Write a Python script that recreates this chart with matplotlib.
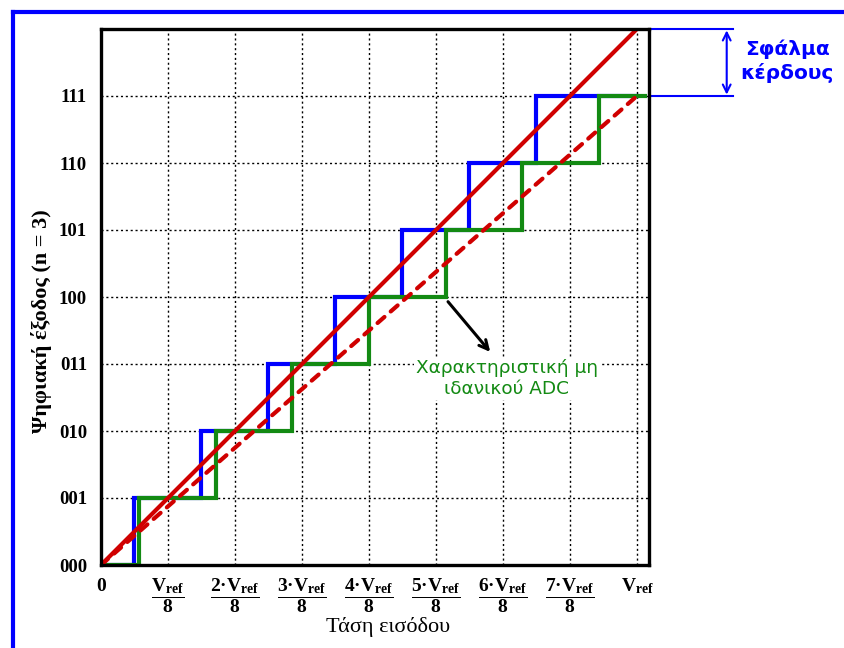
import matplotlib
matplotlib.use("Agg")
import matplotlib.pyplot as plt
from matplotlib.lines import Line2D

plt.rcParams['mathtext.fontset'] = 'custom'
plt.rcParams['mathtext.rm'] = 'Liberation Serif:bold'
plt.rcParams['mathtext.it'] = 'Liberation Serif:bold'
plt.rcParams['mathtext.bf'] = 'Liberation Serif:bold'

# ---- data ----
codes = ['000', '001', '010', '011', '100', '101', '110', '111']
code_vals = [0, 1, 2, 3, 4, 5, 6, 7]
x_ticks = [0, 1, 2, 3, 4, 5, 6, 7, 8]
x_ticklabels = [r'$0$',
                r'$\dfrac{V_{ref}}{8}$',
                r'$\dfrac{2·V_{ref}}{8}$',
                r'$\dfrac{3·V_{ref}}{8}$',
                r'$\dfrac{4·V_{ref}}{8}$',
                r'$\dfrac{5·V_{ref}}{8}$',
                r'$\dfrac{6·V_{ref}}{8}$',
                r'$\dfrac{7·V_{ref}}{8}$',
                r'$V_{ref}$']
ideal_x = [0, 0.5, 1.5, 2.5, 3.5, 4.5, 5.5, 6.5, 8.0]
ideal_y = [0, 1, 2, 3, 4, 5, 6, 7, 7]
real_x = [0, 0.571, 1.714, 2.857, 4.0, 5.143, 6.286, 7.429, 8.12]
real_y = [0, 1, 2, 3, 4, 5, 6, 7, 7]
ideal_line_x = [0, 8]
ideal_line_y = [0, 8]
gain_line_x = [0, 8]
gain_line_y = [0, 7]

fig = plt.figure(figsize=(8.44, 6.48), dpi=100)
ax = fig.add_axes([101/844, 83/648, 548/844, 536/648])
ax.set_xlim(0, 8.18)
ax.set_ylim(0, 8)

# grid
for v in x_ticks[1:]:
    ax.axvline(v, color='black', lw=1.0, ls=(0, (1.5, 2)), zorder=1)
for v in code_vals[1:]:
    ax.axhline(v, color='black', lw=1.0, ls=(0, (1.5, 2)), zorder=1)

blue = '#0000FF'
green = '#138A13'
red = '#D00000'
ax.step(ideal_x, ideal_y, where='post', color=blue, lw=3, zorder=3, solid_joinstyle='miter')
ax.step(real_x, real_y, where='post', color=green, lw=3, zorder=4, solid_joinstyle='miter')
ax.plot(ideal_line_x, ideal_line_y, color=red, lw=3, zorder=5, solid_capstyle='round')
ax.plot(gain_line_x, gain_line_y, color=red, lw=3, ls=(0, (2.2, 2.0)), zorder=5,
        dash_capstyle='round')

for s in ax.spines.values():
    s.set_linewidth(2.4)
    s.set_zorder(6)

ax.set_yticks(code_vals)
ax.set_yticklabels(codes, fontfamily='Liberation Serif', fontweight='bold', fontsize=13.5)
ax.set_xticks(x_ticks)
ax.set_xticklabels(x_ticklabels, fontsize=14)
ax.tick_params(axis='y', length=0, pad=10)
ax.tick_params(axis='x', length=0, pad=8)

ax.set_ylabel('Ψηφιακή έξοδος (n = 3)', fontfamily='Liberation Serif', fontweight='bold',
              fontsize=16)
ax.yaxis.set_label_coords(-0.108, 0.455)
ax.set_xlabel('Τάση εισόδου', fontfamily='Liberation Serif', fontsize=16)
ax.xaxis.set_label_coords(0.524, -0.116)
ax.xaxis.label.set_va('center')
ax.yaxis.label.set_va('center')

# gain error annotation
ax.plot([8.22, 9.43], [8, 8], color=blue, lw=1.5, clip_on=False)
ax.plot([8.22, 9.43], [7, 7], color=blue, lw=1.5, clip_on=False)
ax.annotate('', xy=(9.34, 8.0), xytext=(9.34, 7.0),
            arrowprops=dict(arrowstyle='<->', color=blue, lw=1.5, mutation_scale=14,
                            shrinkA=1, shrinkB=1), annotation_clip=False)
ax.text(10.24, 7.52, 'Σφάλμα\nκέρδους', color=blue, fontweight='bold', fontsize=14.5,
        ha='center', va='center', linespacing=1.25, clip_on=False)

# non-ideal annotation
ax.annotate('', xy=(5.81, 3.18), xytext=(5.18, 3.93),
            arrowprops=dict(arrowstyle='->', color='black', lw=2.2, mutation_scale=16,
                            shrinkA=0, shrinkB=0), zorder=7)
ax.text(6.06, 2.78, 'Χαρακτηριστική μη\nιδανικού ADC', color=green, fontsize=13.3,
        ha='center', va='center', linespacing=1.25, zorder=7,
        bbox=dict(facecolor='white', edgecolor='none', pad=1))

# blue frame
fig.add_artist(Line2D([13/844, 13/844], [0, 1 - 12/648], color=blue, lw=3))
fig.add_artist(Line2D([13/844, 1], [1 - 12/648, 1 - 12/648], color=blue, lw=3))

fig.savefig('out.png', dpi=100)
